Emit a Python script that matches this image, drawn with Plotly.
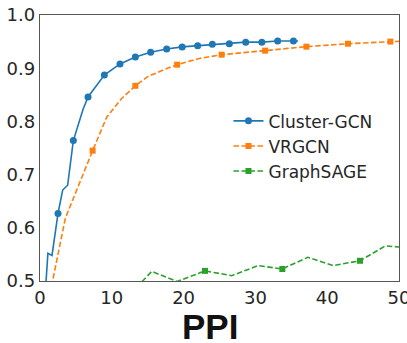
import plotly.graph_objects as go

# Cluster-GCN (line vertices) and which of them carry markers
cgcn_x = [0.45, 1.1, 1.67, 2.51, 3.16, 3.85, 4.64, 5.33, 6.0, 6.69, 8.96, 11.14, 13.28, 15.41,
          17.64, 19.8, 21.96, 24.0, 26.37, 28.65, 30.9, 33.1, 35.3, 35.95]
cgcn_y = [0.42, 0.552, 0.548, 0.627, 0.671, 0.680, 0.764, 0.795, 0.823, 0.846, 0.887, 0.908, 0.921,
          0.930, 0.936, 0.940, 0.942, 0.945, 0.946, 0.949, 0.949, 0.951, 0.951, 0.951]
cgcn_mark = [0, 0, 0, 1, 0, 0, 1, 0, 0, 1, 1, 1, 1, 1, 1, 1, 1, 1, 1, 1, 1, 1, 1, 0]

vrgcn_x = [1.6, 3.53, 7.33, 9.29, 11.37, 13.28, 15.0, 17.2, 19.1, 22.3, 25.3, 31.35, 37.1, 42.9, 48.8, 50.8]
vrgcn_y = [0.49, 0.618, 0.745, 0.808, 0.843, 0.867, 0.884, 0.897, 0.9066, 0.9186, 0.9254, 0.933,
           0.9405, 0.946, 0.950, 0.951]
vrgcn_mark = [0, 0, 1, 0, 0, 1, 0, 0, 1, 0, 1, 1, 1, 1, 1, 0]

sage_x = [11.9, 15.56, 19.1, 22.98, 26.7, 30.4, 33.75, 37.28, 40.85, 44.57, 48.1, 51.7]
sage_y = [0.466, 0.518, 0.499, 0.519, 0.510, 0.529, 0.5226, 0.5445, 0.529, 0.538, 0.566, 0.562]
sage_mark = [0, 0, 0, 1, 0, 0, 1, 0, 0, 1, 0, 0]

x_ticks = [0, 10, 20, 30, 40, 50]
y_ticks = [0.5, 0.6, 0.7, 0.8, 0.9, 1.0]
title_text = "PPI"

series = [
    ("Cluster-GCN", cgcn_x, cgcn_y, cgcn_mark, "#1f77b4", "solid", "circle", 7),
    ("VRGCN", vrgcn_x, vrgcn_y, vrgcn_mark, "#ff7f0e", "5.5px,2.5px", "square", 6),
    ("GraphSAGE", sage_x, sage_y, sage_mark, "#2ca02c", "5.5px,2.5px", "square", 6),
]

fig = go.Figure()
for name, xs, ys, mk, col, dash, sym, ms in series:
    fig.add_trace(go.Scatter(x=xs, y=ys, mode="lines", showlegend=False, hoverinfo="skip",
                             line=dict(color=col, width=1.6, dash=dash)))
    mx = [x for x, m in zip(xs, mk) if m]
    my = [y for y, m in zip(ys, mk) if m]
    fig.add_trace(go.Scatter(x=mx, y=my, mode="markers", showlegend=False, hoverinfo="skip",
                             marker=dict(color=col, symbol=sym, size=ms)))
    fig.add_trace(go.Scatter(x=[None], y=[None], mode="lines+markers", name=name,
                             line=dict(color=col, width=1.6, dash=dash),
                             marker=dict(color=col, symbol=sym, size=ms)))

axis_common = dict(showline=True, mirror=True, linecolor="#555555", linewidth=1.3,
                   showgrid=False, zeroline=False, ticks="", automargin=False,
                   ticklabeloverflow="allow",
                   tickfont=dict(family="DejaVu Sans", size=18, color="#262626"))

fig.update_xaxes(range=[0, 50], tickvals=x_ticks, ticktext=[str(v) for v in x_ticks], **axis_common)
fig.update_yaxes(range=[0.5, 1.0], tickvals=y_ticks, ticktext=[f"{v:.1f}" for v in y_ticks], **axis_common)

fig.add_annotation(text=f"<b>{title_text}</b>", xref="paper", yref="paper",
                   x=0.474, y=-0.172, xanchor="center", yanchor="middle", showarrow=False,
                   font=dict(family="Liberation Sans", size=35, color="#111111"))

fig.update_layout(
    width=407, height=343,
    margin=dict(l=40, r=8, t=15, b=62, autoexpand=False),
    plot_bgcolor="white", paper_bgcolor="white",
    legend=dict(x=0.525, y=0.668, xanchor="left", yanchor="top",
                bgcolor="rgba(0,0,0,0)", font=dict(family="DejaVu Sans", size=17, color="#262626"),
                tracegroupgap=0),
)

fig.write_html("out.html", config={"displayModeBar": False},
               post_script="document.body.style.margin='0px';document.body.style.overflow='hidden';")
